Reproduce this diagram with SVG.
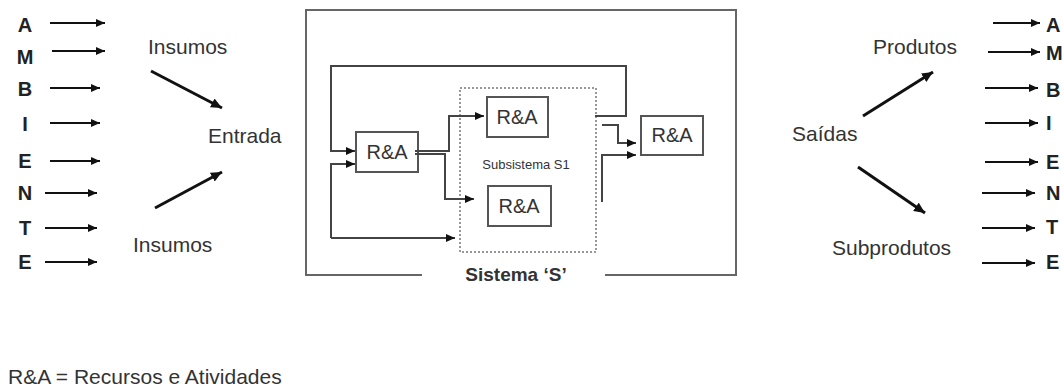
<svg xmlns="http://www.w3.org/2000/svg" width="1062" height="387" viewBox="0 0 1062 387">
<style>
text{font-family:"Liberation Sans",Arial,sans-serif;fill:#333}
.lbl{font-size:21px}
.let{font-size:20px;font-weight:bold;fill:#222}
.ra{font-size:20px;text-anchor:middle}
.box{fill:#fff;stroke:#555;stroke-width:2}
.conn{fill:none;stroke:#444;stroke-width:2}
.arr{fill:none;stroke:#111;stroke-width:2}
.diag{fill:none;stroke:#111;stroke-width:3}
</style>
<defs>
<marker id="ah" markerUnits="userSpaceOnUse" markerWidth="10" markerHeight="8" refX="9" refY="4" orient="auto">
<path d="M0,0 L9,4 L0,8 z" fill="#111"/>
</marker>
<marker id="ahd" markerUnits="userSpaceOnUse" markerWidth="12" markerHeight="10" refX="11" refY="5" orient="auto">
<path d="M0,0 L11,5 L0,10 z" fill="#111"/>
</marker>
</defs>
<rect width="1062" height="387" fill="#fff"/>

<g id="ambiente-entrada">
<text class="let" text-anchor="middle" x="25" y="32">A</text>
<text class="let" text-anchor="middle" x="25" y="64">M</text>
<text class="let" text-anchor="middle" x="25" y="96">B</text>
<text class="let" text-anchor="middle" x="25" y="131">I</text>
<text class="let" text-anchor="middle" x="25" y="168">E</text>
<text class="let" text-anchor="middle" x="25" y="200">N</text>
<text class="let" text-anchor="middle" x="25" y="235">T</text>
<text class="let" text-anchor="middle" x="25" y="269">E</text>
</g>
<g id="ambiente-saida">
<text class="let" x="1046" y="32">A</text>
<text class="let" x="1046" y="60">M</text>
<text class="let" x="1046" y="97">B</text>
<text class="let" x="1046" y="130">I</text>
<text class="let" x="1046" y="169">E</text>
<text class="let" x="1046" y="200">N</text>
<text class="let" x="1046" y="234">T</text>
<text class="let" x="1046" y="269">E</text>
</g>

<g id="insumos-1"><text class="lbl" x="148" y="54">Insumos</text></g>
<g id="entrada"><text class="lbl" x="208" y="143">Entrada</text></g>
<g id="insumos-2"><text class="lbl" x="133" y="252">Insumos</text></g>
<g id="produtos"><text class="lbl" x="873" y="54">Produtos</text></g>
<g id="saidas"><text class="lbl" x="792" y="141">Saídas</text></g>
<g id="subprodutos"><text class="lbl" x="832" y="255">Subprodutos</text></g>

<g id="sistema-s">
<path d="M422,275 H306 V10 H736 V275 H605" fill="none" stroke="#666" stroke-width="2"/>
<text x="516" y="281" font-size="19" font-weight="bold" text-anchor="middle" fill="#222">Sistema ‘S’</text>
</g>
<g id="subsistema-s1">
<rect x="460" y="88" width="136" height="164" fill="none" stroke="#777" stroke-width="1.5" stroke-dasharray="2,2"/>
<text x="526" y="169" font-size="13" text-anchor="middle" fill="#777">Subsistema S1</text>
</g>
<g id="ra-entrada">
<rect class="box" x="356" y="132" width="62" height="40"/>
<text class="ra" x="387" y="159">R&amp;A</text>
</g>
<g id="ra-s1-top">
<rect class="box" x="487" y="97" width="61" height="40"/>
<text class="ra" x="517" y="124">R&amp;A</text>
</g>
<g id="ra-s1-bottom">
<rect class="box" x="488" y="186" width="63" height="40"/>
<text class="ra" x="519" y="213">R&amp;A</text>
</g>
<g id="ra-saida">
<rect class="box" x="641" y="116" width="62" height="39"/>
<text class="ra" x="672" y="142">R&amp;A</text>
</g>

<g id="legenda"><text class="lbl" x="8" y="384">R&amp;A = Recursos e Atividades</text></g>

<g id="connectors">
<line class="arr" x1="50" y1="23" x2="105" y2="23" marker-end="url(#ah)"/>
<line class="arr" x1="52" y1="51" x2="105" y2="51" marker-end="url(#ah)"/>
<line class="arr" x1="50" y1="88" x2="100" y2="88" marker-end="url(#ah)"/>
<line class="arr" x1="50" y1="123" x2="100" y2="123" marker-end="url(#ah)"/>
<line class="arr" x1="50" y1="161" x2="100" y2="161" marker-end="url(#ah)"/>
<line class="arr" x1="45" y1="193" x2="97" y2="193" marker-end="url(#ah)"/>
<line class="arr" x1="45" y1="228" x2="97" y2="228" marker-end="url(#ah)"/>
<line class="arr" x1="45" y1="262" x2="97" y2="262" marker-end="url(#ah)"/>

<line class="arr" x1="993" y1="23" x2="1040" y2="23" marker-end="url(#ah)"/>
<line class="arr" x1="988" y1="52" x2="1040" y2="52" marker-end="url(#ah)"/>
<line class="arr" x1="985" y1="88" x2="1038" y2="88" marker-end="url(#ah)"/>
<line class="arr" x1="985" y1="123" x2="1038" y2="123" marker-end="url(#ah)"/>
<line class="arr" x1="985" y1="162" x2="1038" y2="162" marker-end="url(#ah)"/>
<line class="arr" x1="982" y1="193" x2="1035" y2="193" marker-end="url(#ah)"/>
<line class="arr" x1="982" y1="228" x2="1035" y2="228" marker-end="url(#ah)"/>
<line class="arr" x1="982" y1="263" x2="1035" y2="263" marker-end="url(#ah)"/>

<line class="diag" x1="151" y1="71" x2="222" y2="108" marker-end="url(#ahd)"/>
<line class="diag" x1="155" y1="208" x2="222" y2="172" marker-end="url(#ahd)"/>
<line class="diag" x1="863" y1="116" x2="933" y2="72" marker-end="url(#ahd)"/>
<line class="diag" x1="858" y1="167" x2="925" y2="213" marker-end="url(#ahd)"/>

<path class="conn" d="M595,116 H626 V66 H331 V151 H355" marker-end="url(#ah)"/>
<path class="conn" d="M331,238 V164 H355" marker-end="url(#ah)"/>
<path class="conn" d="M331,238 H455" marker-end="url(#ah)"/>
<path class="conn" d="M415,151 H449 V116 H484" marker-end="url(#ah)"/>
<path class="conn" d="M415,154 H445 V199 H474" marker-end="url(#ah)"/>
<path class="conn" d="M602,125 H618 V143 H636" marker-end="url(#ah)"/>
<path class="conn" d="M602,202 V155 H636" marker-end="url(#ah)"/>
</g>
</svg>
